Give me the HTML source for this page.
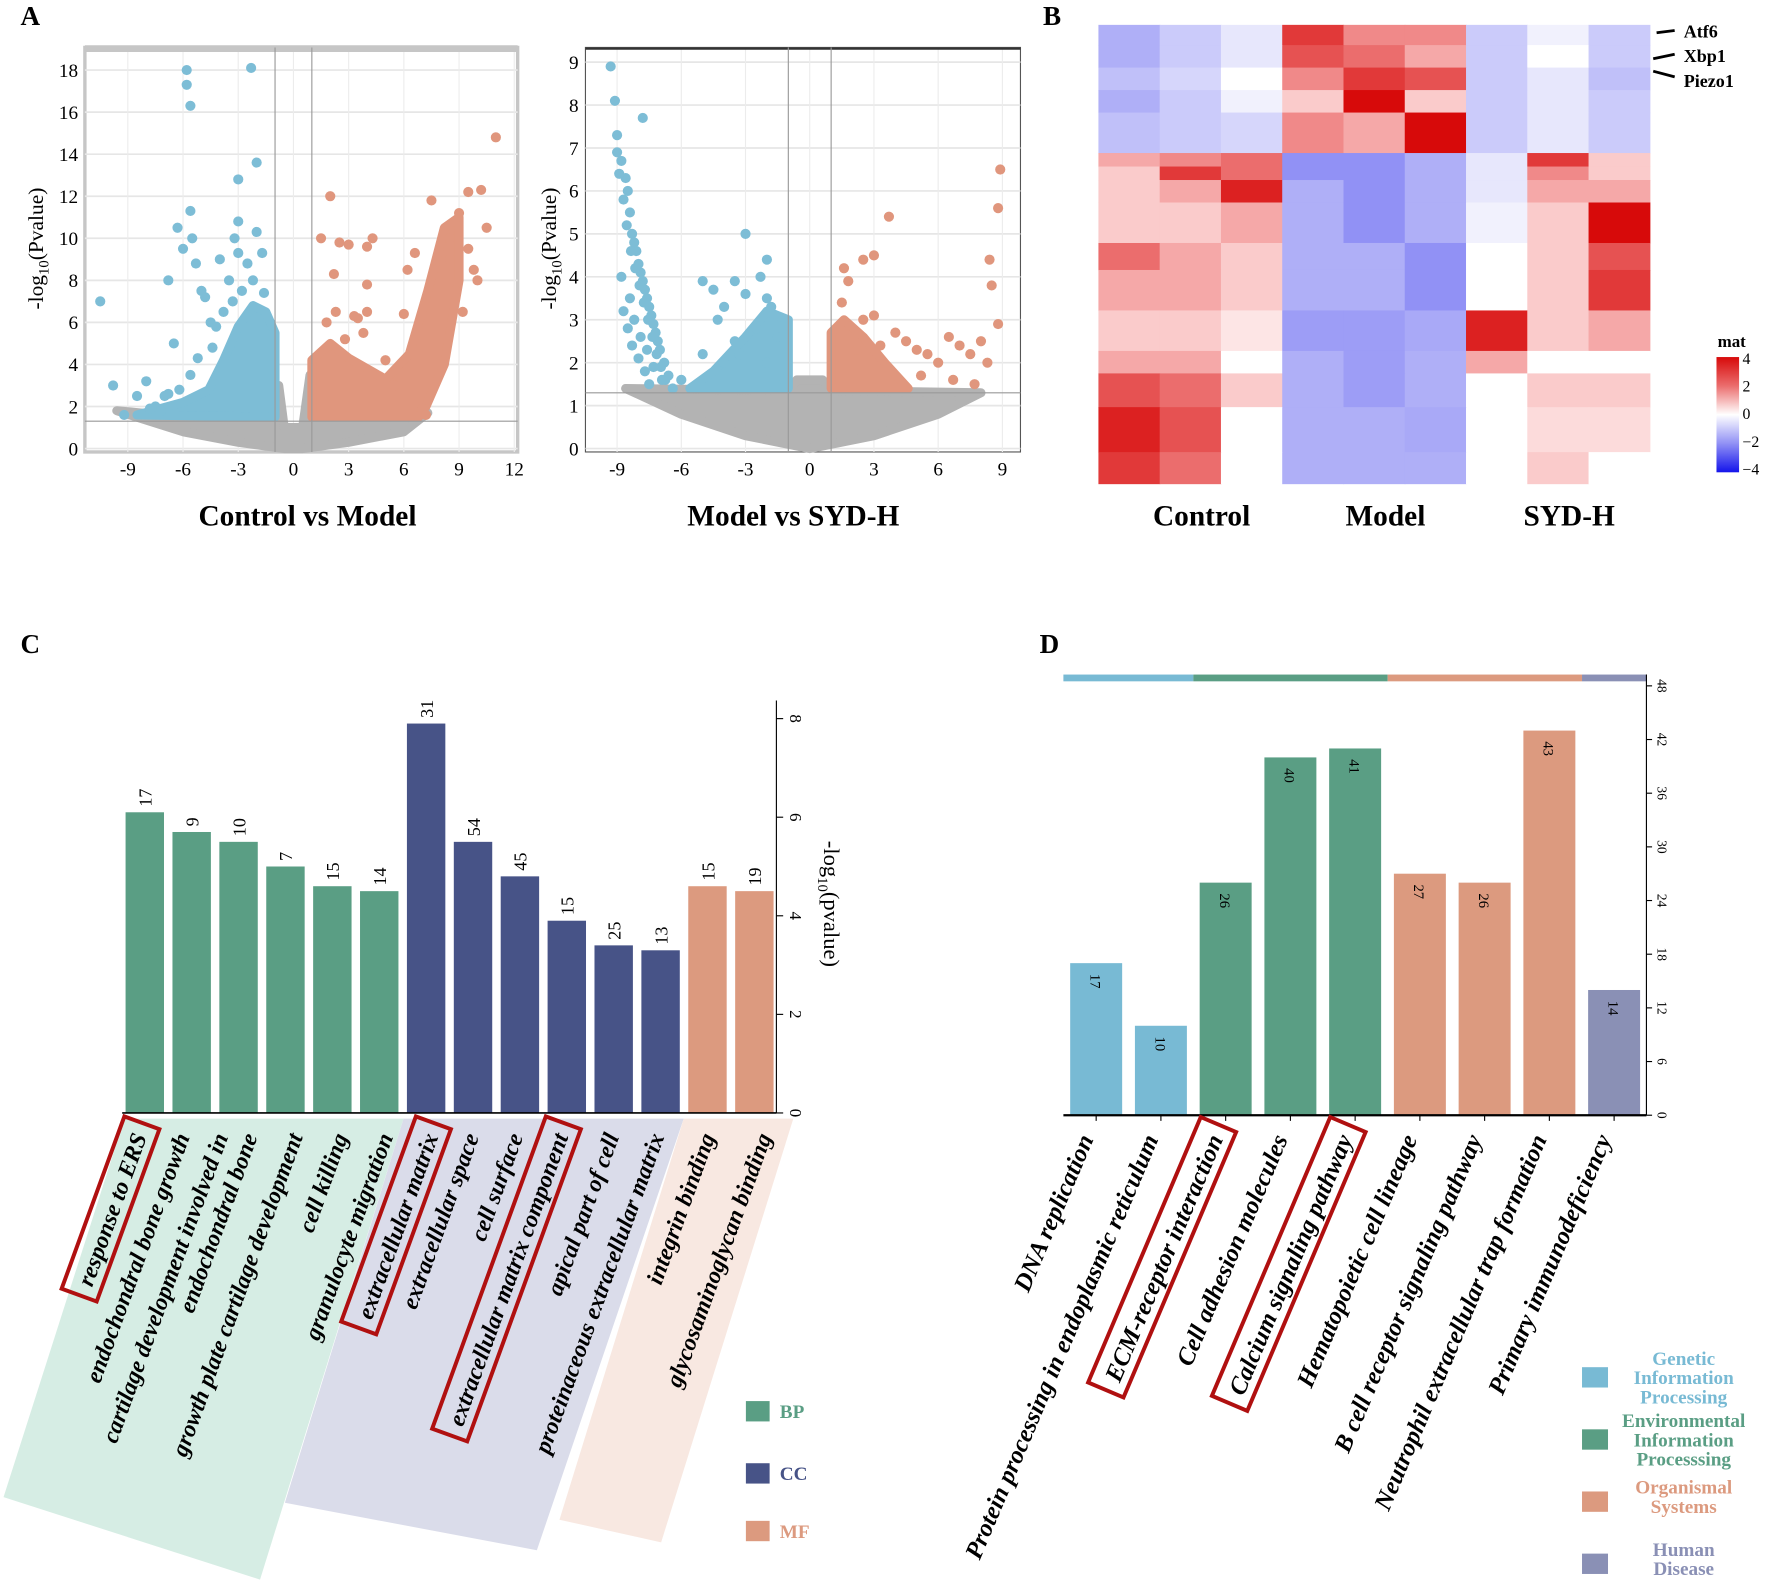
<!DOCTYPE html>
<html><head><meta charset="utf-8">
<style>
html,body{margin:0;padding:0;background:#fff;}
svg{display:block;font-family:"Liberation Serif",serif;}
</style></head>
<body>
<svg id="fig" width="1772" height="1583" viewBox="0 0 1568 1401" xmlns="http://www.w3.org/2000/svg">
<g font-weight="bold" font-size="24">
<text x="18" y="22">A</text>
<text x="923" y="22">B</text>
<text x="18" y="578">C</text>
<text x="920" y="578">D</text>
</g>
<g id="vol1"></g>
<g id="vol2"></g>
<g id="heat"></g>
<g id="goc"></g>
<g id="keggd"></g>
</svg>
<script>
// ---------- Volcano 1 data ----------
const v1GrayPoly = [[-9.6,1.8],[-6,1.5],[-1,1.5],[-0.8,3.0],[-0.5,1.0],[0.5,1.0],[0.9,3.5],[1,1.5],[6.5,1.5],[7.3,1.7],[6,0.8],[3,0.3],[0.5,0],[-0.5,0],[-3,0.3],[-6,0.8]];
const v1BluePoly = [[-1,1.5],[-1,5.5],[-1.5,6.5],[-2.2,6.8],[-3,5.8],[-3.8,4.2],[-4.6,2.8],[-6,2.2],[-8.5,1.6]];
const v1RedPoly = [[1,1.5],[1,4.2],[2,5],[3,4.3],[5,3.3],[6.3,4.5],[7.3,7.5],[8.2,10.5],[9,11],[9,8],[8.2,4],[7.2,2],[6.8,1.5]];
const v1BlueX = [-10.5,-9.8,-9.2,-8.5,-8,-7.5,-7,-6.8,-6.3,-6,-5.8,-5.8,-5.6,-5.6,-5.5,-5.3,-5,-4.5,-4.2,-3.2,-3,-3,-2.3,-2,-2.5,-1.7,-4,-3.5,-2.8,-6.5,-5.2,-3.8,-7.8,-6.8,-4.8,-4.4,-3.3,-2.2,-1.6,-5.6,-6.2,-7.2,-3.0,-2.0];
const v1BlueY = [7,3,1.6,2.5,3.2,2,2.5,8,10.5,9.5,18,17.3,16.3,11.3,10,8.8,7.5,6,5.8,10,10.8,12.8,18.1,13.6,8.8,9.3,9,8,7.5,5,4.3,6.5,1.9,2.6,7.2,4.8,7.0,8.0,7.4,3.5,2.8,1.8,9.3,10.3];
const v1RedX = [2,1.5,2.5,3,4,4.3,2.2,4,4,3.5,6.2,6,7.5,9,9.5,10.2,11,10.5,9.5,10,8.5,8.5,5.5,5,7,7.2,3.3,2.8,6.6,1.8,2.3,3.8,7.8,8.8,9.8,9.2];
const v1RedY = [12,10,9.8,9.7,9.6,10,8.3,7.8,6.5,6.2,8.5,6.4,11.8,11.2,12.2,12.3,14.8,10.5,9.5,8,10,9,3,4.2,1.9,1.6,6.3,5.2,9.3,6,6.5,5.5,9,7.5,8.5,6.5];
const v1XTicks = [-9,-6,-3,0,3,6,9,12];
const v1YTicks = [0,2,4,6,8,10,12,14,16,18];
// ---------- Volcano 2 data ----------
const v2GrayPoly = [[-8.6,1.4],[-1,1.35],[-0.6,1.6],[0.6,1.6],[1,1.35],[8,1.3],[6,0.8],[3,0.3],[0,0],[-3,0.3],[-6,0.8]];
const v2BluePoly = [[-1,1.4],[-1,3],[-2,3.2],[-3,2.6],[-4.5,1.8],[-5.6,1.4]];
const v2RedPoly = [[1,1.4],[1,2.7],[1.6,3.0],[2.5,2.6],[3.5,2.0],[4.6,1.4]];
const v2BlueX = [-9.3,-9.1,-9,-9,-8.8,-8.6,-8.5,-8.4,-8.3,-8.2,-8.1,-8,-7.9,-7.8,-7.7,-7.6,-7.5,-7.4,-7.3,-7.2,-7.1,-7,-6.8,-6.6,-6.4,-8.7,-8.5,-8.3,-8,-7.7,-7.5,-7.8,-5,-4.5,-4,-3.5,-3,-2,-3,-2,-1.5,-2.5,-3.5,-5,-4,-2,-1.2,-6,-1.8,-2.3,-3.3,-4.3,-8.9,-8.7,-8.55,-8.35,-8.15,-7.95,-7.75,-7.55,-7.35,-7.15,-6.95,-6.75,-8.8,-8.4,-8.2,-7.9,-7.6,-7.3,-6.9];
const v2BlueY = [8.9,8.1,7.3,6.9,6.7,6.3,6,5.5,5,4.8,4.6,4.3,4.1,3.9,3.7,3.5,3.3,3.1,2.9,2.7,2.5,2.3,2,1.7,1.4,3.2,2.8,2.4,2.1,1.8,1.5,7.7,3.9,3.7,3.3,3.9,5,4.4,3.6,3.5,2.6,2.8,2.5,2.2,2,2,1.6,1.6,3.3,4.0,2.2,3.0,6.4,5.8,5.2,4.6,4.2,3.8,3.4,3.0,2.6,2.2,1.9,1.6,4.0,3.5,3.0,2.6,2.3,1.9,1.6];
const v2RedX = [1.5,1.8,1.6,2.5,3,3.7,2.5,3,4,4.5,5,5.5,6,7,7.5,8,8.4,8.5,8.8,8.9,8.8,7.7,8.3,6.7,3.3,2.2,5.2,6.5];
const v2RedY = [3.4,3.9,4.2,4.4,4.5,5.4,3,3.1,2.7,2.5,2.3,2.2,2.0,2.4,2.2,2.5,4.4,3.8,5.6,6.5,2.9,1.5,2.0,1.6,2.4,2.3,1.7,2.6];
const v2XTicks = [-9,-6,-3,0,3,6,9];
const v2YTicks = [0,1,2,3,4,5,6,7,8,9];
// ---------- Heatmap data (row counts, 9 column values) ----------
const hmRows = [9,10,10,10,18,6,6,10,18,12,18,18,10,15,20,14];
const hmC1 = [-1.5,-1.5,-1.2,-1.5,-1.2,1,0.5,0.5,0.5,2,1,0.5,1,2.5,3.5,3];
const hmC2 = [-1,-1,-0.8,-1,-1,1.5,3,1,0.5,1,1,0.5,1,2,2.5,2];
const hmC3 = [-0.5,-0.5,0,-0.3,-0.8,2,2,3.5,1,0.5,0.5,0.2,0,0.5,0,0];
const hmM1 = [3,2.5,1.5,0.5,1.5,-2,-2,-1.5,-1.5,-1.5,-1.5,-1.8,-1.5,-1.5,-1.5,-1.5];
const hmM2 = [1.5,2,3,4,1,-2,-2,-2,-2,-1.5,-1.5,-1.8,-1.8,-1.8,-1.5,-1.5];
const hmM3 = [1.5,1,2.5,0.5,4,-1.5,-1.5,-1.5,-1.5,-2,-2,-1.6,-1.5,-1.5,-1.6,-1.5];
const hmS1 = [-1,-1,-1,-1,-1,-0.5,-0.5,-0.5,-0.3,0,0,3.5,1,0,0,0];
const hmS2 = [-0.3,0,-0.5,-0.5,-0.5,3,1.5,1,0.5,0.5,0.5,0.5,0,0.5,0.3,0.5];
const hmS3 = [-1,-1,-1.2,-1,-1,0.5,0.5,1,4,2.5,3,1,0,0.5,0.3,0];
const hmGroups = ["Control","Model","SYD-H"];
const hmLegendTicks = [4,2,0,-2,-4];
// ---------- GO bar chart data ----------
const goTerms = ["response to ERS","endochondral bone growth","cartilage development involved in","endochondral bone","growth plate cartilage development","cell killing","granulocyte migration","extracellular matrix","extracellular space","cell surface","extracellular matrix component","apical part of cell","proteinaceous extracellular matrix","integrin binding","glycosaminoglycan binding"];
const goValues = [6.1,5.7,5.5,5.0,4.6,4.5,7.9,5.5,4.8,3.9,3.4,3.3,4.6,4.5];
const goCounts = [17,9,10,7,15,14,31,54,45,15,25,13,15,19];
const goCats = ["BP","BP","BP","BP","BP","BP","CC","CC","CC","CC","CC","CC","MF","MF"];
const goYTicks = [0,2,4,6,8];
// ---------- KEGG bar chart data ----------
const kgTerms = ["DNA replication","Protein processing in endoplasmic reticulum","ECM-receptor interaction","Cell adhesion molecules","Calcium signaling pathway","Hematopoietic cell lineage","B cell receptor signaling pathway","Neutrophil extracellular trap formation","Primary immunodeficiency"];
const kgValues = [17,10,26,40,41,27,26,43,14];
const kgCats = ["G","G","E","E","E","O","O","O","H"];
const kgYTicks = [0,6,12,18,24,30,36,42,48];

const NS = "http://www.w3.org/2000/svg";
function mk(tag, attrs, parent){const e=document.createElementNS(NS,tag);for(const k in attrs)e.setAttribute(k,attrs[k]);parent.appendChild(e);return e;}

// ---------- Volcano drawing ----------
function volcano(g, o){
  const X=v=>o.x0+(v-o.xmin)*(o.x1-o.x0)/(o.xmax-o.xmin);
  const Y=v=>o.y0-(v-o.ymin)*(o.y0-o.y1)/(o.ymax-o.ymin);
  const fr=mk('rect',{x:o.fx0,y:o.fy0,width:o.fx1-o.fx0,height:o.fy1-o.fy0,fill:'#fff',stroke:o.border,'stroke-width':o.bw},g);
  
  
  o.yt.forEach(t=>{
    const l=mk('line',{x1:o.fx0,x2:o.fx1,y1:Y(t),y2:Y(t),stroke:'#e6e6e6','stroke-width':1.5},g);
    
    
    const tx=mk('text',{x:o.fx0-6,y:Y(t)+6,'text-anchor':'end','font-size':17},g);tx.textContent=t;
    
    
  });
  o.xt.forEach(t=>{
    const l=mk('line',{x1:X(t),x2:X(t),y1:o.fy0,y2:o.fy1,stroke:'#ececec','stroke-width':1},g);
    
    
    const tx=mk('text',{x:X(t),y:o.fy1+21,'text-anchor':'middle','font-size':17},g);tx.textContent=t;
    
    
  });
  const top=mk('line',{x1:o.fx0,x2:o.fx1,y1:o.fy0+1,y2:o.fy0+1,stroke:o.topc,'stroke-width':o.topw},g);
  
  
  const pp=a=>a.map(p=>X(p[0])+','+Y(p[1])).join(' ');
  const gp=mk('polygon',{points:pp(o.gray),fill:'#b3b3b3',stroke:'#b3b3b3','stroke-width':8,'stroke-linejoin':'round'},g);
  
  
  const bp=mk('polygon',{points:pp(o.blue),fill:'#7dbdd6',stroke:'#7dbdd6','stroke-width':8,'stroke-linejoin':'round'},g);
  
  
  const rp=mk('polygon',{points:pp(o.red),fill:'#e0967d',stroke:'#e0967d','stroke-width':8,'stroke-linejoin':'round'},g);
  
  
  o.bx.forEach((v,i)=>{const c=mk('circle',{cx:X(v),cy:Y(o.by[i]),r:4.5,fill:'#7dbdd6'},g);
    
    });
  o.rx.forEach((v,i)=>{const c=mk('circle',{cx:X(v),cy:Y(o.ry[i]),r:4.5,fill:'#e0967d'},g);
    
    });
  [-1,1].forEach(v=>{const l=mk('line',{x1:X(v),x2:X(v),y1:o.fy0,y2:o.fy1,stroke:'#999','stroke-width':1},g);
    
    });
  const h=mk('line',{x1:o.fx0,x2:o.fx1,y1:Y(1.3),y2:Y(1.3),stroke:'#999','stroke-width':1},g);
  
  
  const yl=mk('text',{x:0,y:0,transform:`translate(${o.ylx},${o.yly}) rotate(-90)`,'text-anchor':'middle','font-size':19},g);
  yl.innerHTML='-log<tspan font-size="13" dy="5">10</tspan><tspan dy="-5">(Pvalue)</tspan>';
  
  
  const tt=mk('text',{x:o.tx,y:465,'text-anchor':'middle','font-size':26,'font-weight':'bold'},g);tt.textContent=o.title;
  
  
}
volcano(document.getElementById('vol1'),{x0:113,x1:455,xmin:-9,xmax:12,y0:397,y1:62,ymin:0,ymax:18,fx0:75,fx1:458,fy0:42,fy1:400,border:'#c6c6c6',bw:3,topc:'#c6c6c6',topw:6,
  gray:v1GrayPoly,blue:v1BluePoly,red:v1RedPoly,bx:v1BlueX,by:v1BlueY,rx:v1RedX,ry:v1RedY,xt:v1XTicks,yt:v1YTicks,ylx:38,yly:220,title:'Control vs Model',tx:272});
volcano(document.getElementById('vol2'),{x0:546,x1:887,xmin:-9,xmax:9,y0:397,y1:55,ymin:0,ymax:9,fx0:518,fx1:903,fy0:42,fy1:400,border:'#555',bw:1,topc:'#333',topw:2,
  gray:v2GrayPoly,blue:v2BluePoly,red:v2RedPoly,bx:v2BlueX,by:v2BlueY,rx:v2RedX,ry:v2RedY,xt:v2XTicks,yt:v2YTicks,ylx:492,yly:220,title:'Model vs SYD-H',tx:702});

// ---------- Heatmap ----------
function hmColor(v){
  v=Math.max(-4,Math.min(4,v));
  if(v>=0){const t=v/4;const r=255-(255-215)*t,gg=255-(255-10)*Math.pow(t,0.75),b=255-(255-10)*Math.pow(t,0.75);return `rgb(${r|0},${gg|0},${b|0})`;}
  const t=-v/4;const r=255-(255-20)*Math.pow(t,1.1),gg=255-(255-20)*Math.pow(t,1.1),b=255-(255-235)*t;return `rgb(${r|0},${gg|0},${b|0})`;
}
(function(){
  const g=document.getElementById('heat');
  const hx0=972,hx1=1460,hy0=22,hy1=428;
  const cols=[hmC1,hmC2,hmC3,hmM1,hmM2,hmM3,hmS1,hmS2,hmS3];
  const total=hmRows.reduce((a,b)=>a+b,0);
  const cw=(hx1-hx0)/9, rh=(hy1-hy0)/total;
  let r=0;
  hmRows.forEach((n,s)=>{
    cols.forEach((col,c)=>{
      const cell=mk('rect',{x:hx0+c*cw,y:hy0+r*rh,width:cw+0.5,height:n*rh+0.5,fill:hmColor(col[s])},g);
      
      
    });
    r+=n;
  });
  hmGroups.forEach((t,i)=>{const tx=mk('text',{x:hx0+cw*(1.5+3*i)+10,y:465,'text-anchor':'middle','font-size':26,'font-weight':'bold'},g);tx.textContent=t;
    
    });
  [['Atf6',28,[1466,29,1482,27]],['Xbp1',50,[1463,52,1482,48]],['Piezo1',72,[1463,63,1482,68]]].forEach(a=>{
    const l=mk('line',{x1:a[2][0],y1:a[2][1],x2:a[2][2],y2:a[2][3],stroke:'#000','stroke-width':2.5},g);
    
    
    const tx=mk('text',{x:1490,y:a[1]+5,'font-size':16,'font-weight':'bold'},g);tx.textContent=a[0];
    
    
  });
  const defs=mk('defs',{},g);
  const lg=mk('linearGradient',{id:'mg',x1:0,y1:0,x2:0,y2:1},defs);
  hmLegendTicks.forEach((v,i)=>mk('stop',{offset:i/4,'stop-color':hmColor(v)},lg));
  const cb=mk('rect',{x:1519,y:316,width:20,height:102,fill:'url(#mg)'},g);
  
  
  const mt=mk('text',{x:1520,y:307,'font-size':15,'font-weight':'bold'},g);mt.textContent='mat';
  
  
  hmLegendTicks.forEach((v,i)=>{const tx=mk('text',{x:1542,y:322+i*24.5,'font-size':14},g);tx.textContent=v<0?'−'+(-v):v;
    
    });
})();

// ---------- Rotated label helper ----------
function rotLabel(g,x,y,ang,text,size,boxed,name){
  const tx=mk('text',{x:0,y:0,transform:`translate(${x},${y}) rotate(${ang})`,'text-anchor':'end','font-size':size,'font-weight':'bold','font-style':'italic'},g);
  tx.textContent=text;
  
  
  if(boxed){
    const w=tx.getComputedTextLength();
    const b=mk('rect',{x:-w-10,y:-size-4,width:w+20,height:size+12,fill:'none',stroke:'#b01010','stroke-width':3.5,transform:`translate(${x},${y}) rotate(${ang})`},g);
    
    
  }
}

// ---------- GO chart ----------
(function(){
  const g=document.getElementById('goc');
  const y0=985,yTop=636,vmax=8,axX=687;
  const Y=v=>y0-v*(y0-yTop)/vmax;
  const X=i=>128+i*41.5;
  const colors={BP:'#5a9e84',CC:'#475387',MF:'#dc9a7f'};
  [[[110,990],[357,990],[230,1398],[3,1325],'#d6ede4','bg-bp'],[[357,990],[605,990],[475,1372],[252,1330],'#dadcea','bg-cc'],[[605,990],[702,990],[585,1365],[495,1345],'#f8e8e1','bg-mf']].forEach(p=>{
    const pg=mk('polygon',{points:p.slice(0,4).map(q=>q.join(',')).join(' '),fill:p[4]},g);
    
    
  });
  goValues.forEach((v,i)=>{
    const b=mk('rect',{x:X(i)-17,y:Y(v),width:34,height:y0-Y(v),fill:colors[goCats[i]]},g);
    
    
    const t=mk('text',{x:0,y:0,transform:`translate(${X(i)+6},${Y(v)-5}) rotate(-90)`,'font-size':16},g);t.textContent=goCounts[i];
    
    
  });
  const ax=mk('line',{x1:108,x2:axX,y1:y0,y2:y0,stroke:'#000','stroke-width':1.5},g);
  
  
  const ay=mk('line',{x1:axX,x2:axX,y1:620,y2:y0,stroke:'#000','stroke-width':1},g);
  
  
  goYTicks.forEach(t=>{
    const l=mk('line',{x1:axX,x2:axX+6,y1:Y(t),y2:Y(t),stroke:'#000'},g);
    
    
    const tx=mk('text',{x:0,y:0,transform:`translate(${axX+12},${Y(t)}) rotate(90)`,'text-anchor':'middle','font-size':15},g);tx.textContent=t;
    
    
  });
  const yl=mk('text',{x:0,y:0,transform:`translate(729,800) rotate(90)`,'text-anchor':'middle','font-size':20},g);
  yl.innerHTML='-log<tspan font-size="13" dy="5">10</tspan><tspan dy="-5">(pvalue)</tspan>';
  
  
  const labX=[130,168,202,228,268,308,348,388,424,463,503,548,588,633,683];
  goTerms.forEach((t,i)=>{
    rotLabel(g,labX[i],1006,-70,t,21,i===0||i===7||i===10,'go-term-label');
  });
  [['BP',1250,'#5a9e84'],['CC',1305,'#475387'],['MF',1356,'#dc9a7f']].forEach(a=>{
    const r=mk('rect',{x:660,y:a[1]-10,width:21,height:18,fill:a[2]},g);
    
    
    const tx=mk('text',{x:690,y:a[1]+5,'font-size':17,'font-weight':'bold',fill:a[2]},g);tx.textContent=a[0];
    
    
  });
})();

// ---------- KEGG chart ----------
(function(){
  const g=document.getElementById('keggd');
  const y0=987,yTop=607,vmax=48,axX=1457;
  const Y=v=>y0-v*(y0-yTop)/vmax;
  const X=i=>970+i*57.3;
  const colors={G:'#78bad4',E:'#5a9e84',O:'#dc9a7f',H:'#8a90b5'};
  [[941,1056,'G'],[1056,1228,'E'],[1228,1400,'O'],[1400,1457,'H']].forEach(s=>{
    const r=mk('rect',{x:s[0],y:597,width:s[1]-s[0],height:6,fill:colors[s[2]]},g);
    
    
  });
  kgValues.forEach((v,i)=>{
    const b=mk('rect',{x:X(i)-23,y:Y(v),width:46,height:y0-Y(v),fill:colors[kgCats[i]]},g);
    
    
    const t=mk('text',{x:0,y:0,transform:`translate(${X(i)-5},${Y(v)+16}) rotate(90)`,'text-anchor':'middle','font-size':13},g);t.textContent=v;
    
    
    const tk=mk('line',{x1:X(i),x2:X(i),y1:y0,y2:y0+5,stroke:'#000'},g);
    
    
  });
  const ax=mk('line',{x1:941,x2:axX,y1:y0,y2:y0,stroke:'#000','stroke-width':2},g);
  
  
  const ay=mk('line',{x1:axX,x2:axX,y1:597,y2:y0,stroke:'#000','stroke-width':1},g);
  
  
  kgYTicks.forEach(t=>{
    const l=mk('line',{x1:axX,x2:axX+5,y1:Y(t),y2:Y(t),stroke:'#000'},g);
    
    
    const tx=mk('text',{x:0,y:0,transform:`translate(${axX+10},${Y(t)}) rotate(90)`,'text-anchor':'middle','font-size':12},g);tx.textContent=t;
    
    
  });
  kgTerms.forEach((t,i)=>rotLabel(g,X(i)-2,1008,-67,t,22,i===2||i===4,'kegg-term-label'));
  [[1210,'#78bad4',['Genetic','Information','Processing']],[1265,'#5a9e84',['Environmental','Information','Processsing']],[1320,'#dc9a7f',['Organismal','Systems']],[1375,'#8a90b5',['Human','Disease']]].forEach(a=>{
    const r=mk('rect',{x:1400,y:a[0],width:23,height:18,fill:a[1]},g);
    
    
    const top=a[2].length===3?a[0]-2:a[0]+2;
    a[2].forEach((s,j)=>{const tx=mk('text',{x:1490,y:top+j*17,'text-anchor':'middle','font-size':17,'font-weight':'bold',fill:a[1]},g);tx.textContent=s;
      
      });
  });
})();
</script>
</body></html>
